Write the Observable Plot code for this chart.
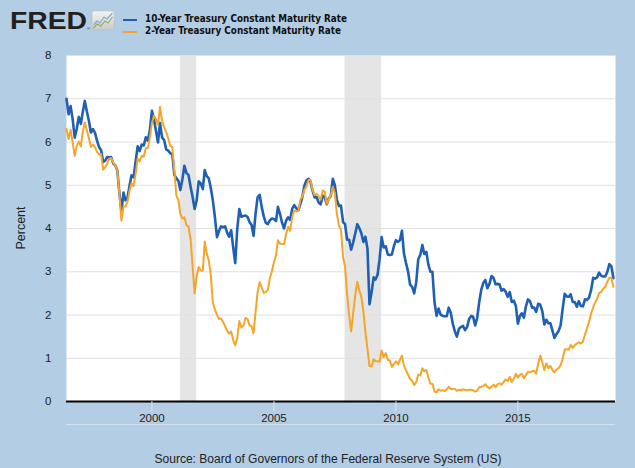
<!DOCTYPE html>
<html><head><meta charset="utf-8">
<script src="https://cdn.jsdelivr.net/npm/d3@7"></script>
<script src="https://cdn.jsdelivr.net/npm/@observablehq/plot@0.6"></script>
<style>
html,body{margin:0;padding:0;background:#b3cde4;}
#wrap{position:relative;width:635px;height:468px;overflow:hidden;}
#wrap svg{position:absolute;left:0;top:0;}
</style></head><body><div id="wrap"></div>
<script>
// Monthly values, July 1996 .. December 2018
const firstMonth = "1996-07-01";
const tenYear = [
  7.00, 6.64, 6.83, 6.53, 6.10, 6.30,
  6.58, 6.42, 6.69, 6.95, 6.71, 6.49, 6.22, 6.30, 6.21, 6.03, 5.88, 5.81,
  5.54, 5.57, 5.65, 5.64, 5.65, 5.50, 5.46, 5.34, 4.81, 4.40, 4.83, 4.65,
  4.72, 5.00, 5.23, 5.18, 5.54, 5.90, 5.79, 5.94, 5.92, 6.11, 6.03, 6.28,
  6.72, 6.52, 6.26, 5.99, 6.44, 6.10, 6.05, 5.83, 5.80, 5.74, 5.72, 5.24,
  5.16, 5.10, 4.89, 5.14, 5.45, 5.28, 5.24, 4.97, 4.73, 4.45, 4.65, 5.09,
  5.04, 4.91, 5.35, 5.21, 5.16, 4.93, 4.65, 4.26, 3.80, 3.94, 4.05, 4.03,
  4.05, 3.90, 3.81, 3.96, 3.57, 3.20, 3.98, 4.45, 4.27, 4.29, 4.30, 4.27,
  4.15, 4.08, 3.83, 4.35, 4.72, 4.78, 4.50, 4.28, 4.13, 4.10, 4.19, 4.23,
  4.22, 4.17, 4.50, 4.34, 4.14, 4.00, 4.18, 4.26, 4.20, 4.46, 4.54, 4.47,
  4.42, 4.57, 4.72, 4.99, 5.11, 5.15, 5.09, 4.88, 4.72, 4.73, 4.60, 4.56,
  4.76, 4.72, 4.56, 4.69, 4.75, 5.15, 5.00, 4.67, 4.52, 4.53, 4.15, 4.10,
  3.74, 3.74, 3.51, 3.68, 3.88, 4.10, 4.01, 3.89, 3.69, 3.81, 3.53, 2.25,
  2.52, 2.87, 2.82, 2.93, 3.29, 3.80, 3.56, 3.59, 3.40, 3.39, 3.40, 3.59,
  3.73, 3.69, 3.73, 3.95, 3.42, 3.20, 3.01, 2.70, 2.65, 2.50, 2.76, 3.29,
  3.39, 3.62, 3.41, 3.46, 3.17, 3.00, 3.00, 2.30, 1.98, 2.15, 2.01, 1.98,
  1.97, 1.97, 2.17, 2.05, 1.80, 1.62, 1.50, 1.68, 1.72, 1.75, 1.65, 1.72,
  1.91, 1.98, 1.96, 1.76, 1.93, 2.30, 2.58, 2.74, 2.81, 2.62, 2.72, 2.90,
  2.86, 2.71, 2.72, 2.71, 2.56, 2.60, 2.54, 2.42, 2.53, 2.30, 2.33, 2.21,
  1.80, 1.98, 2.04, 1.94, 2.20, 2.36, 2.32, 2.17, 2.17, 2.07, 2.26, 2.24,
  2.09, 1.78, 1.89, 1.81, 1.81, 1.64, 1.47, 1.56, 1.63, 1.76, 2.14, 2.49,
  2.43, 2.42, 2.48, 2.30, 2.30, 2.19, 2.32, 2.21, 2.20, 2.36, 2.35, 2.40,
  2.58, 2.86, 2.84, 2.87, 2.98, 2.91, 2.89, 2.89, 3.00, 3.18, 3.12, 2.85
];
const twoYear = [
  6.30, 6.07, 6.28, 5.99, 5.68, 5.91,
  6.01, 5.90, 6.22, 6.45, 6.28, 6.09, 5.89, 5.94, 5.88, 5.77, 5.71, 5.72,
  5.36, 5.42, 5.49, 5.61, 5.63, 5.52, 5.46, 5.34, 4.81, 4.18, 4.50, 4.51,
  4.62, 4.88, 5.05, 4.98, 5.25, 5.62, 5.55, 5.68, 5.66, 5.86, 5.86, 6.10,
  6.44, 6.61, 6.53, 6.40, 6.81, 6.48, 6.34, 6.23, 6.08, 5.91, 5.88, 5.35,
  4.76, 4.66, 4.34, 4.23, 4.26, 4.08, 4.04, 3.76, 3.12, 2.50, 2.90, 3.11,
  3.03, 3.02, 3.70, 3.42, 3.26, 2.91, 2.29, 2.13, 2.00, 1.91, 1.92, 1.84,
  1.74, 1.63, 1.57, 1.62, 1.42, 1.30, 1.47, 1.86, 1.71, 1.75, 1.93, 1.91,
  1.76, 1.74, 1.58, 2.07, 2.53, 2.76, 2.64, 2.51, 2.53, 2.58, 2.85, 3.01,
  3.22, 3.38, 3.73, 3.65, 3.64, 3.64, 3.87, 4.04, 3.95, 4.27, 4.42, 4.40,
  4.40, 4.67, 4.73, 4.89, 4.97, 5.12, 5.12, 4.90, 4.77, 4.80, 4.74, 4.67,
  4.88, 4.85, 4.57, 4.67, 4.77, 4.96, 4.82, 4.34, 4.06, 3.97, 3.34, 3.12,
  2.48, 1.97, 1.62, 2.05, 2.45, 2.77, 2.57, 2.42, 2.08, 1.61, 1.21, 0.82,
  0.81, 0.98, 0.93, 0.93, 0.92, 1.18, 1.02, 1.12, 0.96, 0.95, 0.80, 0.87,
  0.93, 0.86, 0.96, 1.06, 0.83, 0.72, 0.62, 0.52, 0.48, 0.38, 0.45, 0.62,
  0.61, 0.77, 0.70, 0.73, 0.56, 0.41, 0.41, 0.23, 0.21, 0.28, 0.25, 0.26,
  0.24, 0.28, 0.34, 0.29, 0.29, 0.29, 0.25, 0.27, 0.26, 0.28, 0.27, 0.26,
  0.27, 0.27, 0.26, 0.23, 0.25, 0.33, 0.34, 0.36, 0.40, 0.34, 0.30, 0.34,
  0.39, 0.33, 0.40, 0.42, 0.39, 0.45, 0.51, 0.47, 0.57, 0.45, 0.53, 0.64,
  0.55, 0.62, 0.64, 0.54, 0.61, 0.69, 0.67, 0.70, 0.71, 0.64, 0.88, 1.06,
  0.90, 0.73, 0.88, 0.77, 0.82, 0.73, 0.67, 0.74, 0.77, 0.84, 0.98, 1.20,
  1.21, 1.20, 1.31, 1.24, 1.30, 1.34, 1.37, 1.34, 1.38, 1.55, 1.70, 1.84,
  2.03, 2.18, 2.28, 2.38, 2.51, 2.53, 2.61, 2.65, 2.77, 2.86, 2.86, 2.65
];
const recessionStarts = ["2001-03-01", "2007-12-01"];
const recessionEnds   = ["2001-11-01", "2009-06-01"];
const yTicks = [0, 1, 2, 3, 4, 5, 6, 7, 8];
const xTickYears = ["2000-01-01", "2005-01-01", "2010-01-01", "2015-01-01"];
const xDomain = ["1996-07-01", "2019-01-01"];
const seriesNames = ["10-Year Treasury Constant Maturity Rate", "2-Year Treasury Constant Maturity Rate"];
const seriesColors = ["#1f60b5", "#f5a52a"];
const sourceText = "Source: Board of Governors of the Federal Reserve System (US)";

const t0 = new Date(firstMonth);
const toRows = arr => arr.map((v, i) => ({date: d3.utcMonth.offset(t0, i), value: v}));
const rows10 = toRows(tenYear);
const rows2 = toRows(twoYear);
const recessions = recessionStarts.map((s, i) => ({start: new Date(s), end: new Date(recessionEnds[i])}));

const chart = Plot.plot({
  width: 635, height: 468,
  marginLeft: 66, marginRight: 20, marginTop: 55, marginBottom: 67,
  style: {background: "transparent", fontFamily: "'Liberation Sans', Arial, sans-serif", fontSize: "11px", color: "#222"},
  x: {type: "utc", domain: xDomain.map(d => new Date(d))},
  y: {domain: [0, 8]},
  marks: [
    Plot.frame({fill: "white", stroke: "none"}),
    Plot.rect(recessions, {x1: "start", x2: "end", fill: "#e5e5e5"}),
    Plot.gridY(yTicks, {stroke: "#e0e0e0", strokeOpacity: 1}),
    Plot.line(rows10, {x: "date", y: "value", stroke: seriesColors[0], strokeWidth: 2.6}),
    Plot.line(rows2, {x: "date", y: "value", stroke: seriesColors[1], strokeWidth: 2}),
    Plot.ruleY([0], {stroke: "#000", strokeWidth: 2}),
    Plot.axisY(yTicks, {tickSize: 0, tickPadding: 15, label: null, fontSize: 11.5}),
    Plot.axisX(xTickYears.map(d => new Date(d)), {tickSize: 10, tickPadding: 2, stroke: "#dce7f2", fill: "#222", tickFormat: d3.utcFormat("%Y"), label: null, fontSize: 11.5})
  ]
});
document.getElementById("wrap").appendChild(chart);

// header (logo + legend), axis title and caption
const ns = "http://www.w3.org/2000/svg";
const ov = d3.select("#wrap").append("svg").attr("width", 635).attr("height", 468).attr("xmlns", ns);
const grad = ov.append("defs").append("linearGradient").attr("id", "ig").attr("x1", 0).attr("y1", 0).attr("x2", 0).attr("y2", 1);
grad.append("stop").attr("offset", 0).attr("stop-color", "#f4f4f4");
grad.append("stop").attr("offset", 1).attr("stop-color", "#c9c9c9");
ov.append("text").attr("x", 10).attr("y", 29).attr("textLength", 77).attr("lengthAdjust", "spacingAndGlyphs")
  .attr("font-family", "'Liberation Sans', Arial, sans-serif").attr("font-weight", 900).attr("font-size", 24)
  .attr("fill", "#231f20").text("FRED");
ov.append("text").attr("x", 87).attr("y", 30).attr("font-size", 4).attr("fill", "#231f20").attr("font-family", "'Liberation Sans', Arial, sans-serif").text("®");
ov.append("rect").attr("x", 92).attr("y", 11).attr("width", 22).attr("height", 19).attr("rx", 2).attr("fill", "url(#ig)").attr("stroke", "#b8b8b8").attr("stroke-width", 0.5);
ov.append("polyline").attr("points", "93.5,25 97,21 100,23 104,17 107,19 112.5,13").attr("fill", "none").attr("stroke", "#86aecb").attr("stroke-width", 1.2);
ov.append("polyline").attr("points", "93.5,28 97,24 101,26 105,21 108,23 112.5,17").attr("fill", "none").attr("stroke", "#8ab35e").attr("stroke-width", 1.2);

const legendY = [20, 32];
seriesNames.forEach((name, i) => {
  ov.append("line").attr("x1", 123).attr("x2", 137).attr("y1", legendY[i]).attr("y2", legendY[i])
    .attr("stroke", seriesColors[i]).attr("stroke-width", 2);
  ov.append("text").attr("x", 145).attr("y", legendY[i] + 2)
    .attr("font-family", "'DejaVu Sans Condensed', 'DejaVu Sans', sans-serif").attr("font-stretch", "condensed")
    .attr("font-weight", "bold").attr("font-size", 10.5).attr("fill", "#111")
    .attr("textLength", i === 0 ? 202 : 196).attr("lengthAdjust", "spacingAndGlyphs").text(name);
});
ov.append("text").attr("transform", "translate(25,228) rotate(-90)").attr("text-anchor", "middle")
  .attr("font-family", "'Liberation Sans', Arial, sans-serif").attr("font-size", 12.5).attr("fill", "#222").text("Percent");
ov.append("line").attr("x1", 66).attr("x2", 615).attr("y1", 424.5).attr("y2", 424.5).attr("stroke", "#d3e1ef").attr("stroke-width", 1);
ov.append("text").attr("x", 328).attr("y", 463).attr("text-anchor", "middle")
  .attr("font-family", "'Liberation Sans', Arial, sans-serif").attr("font-size", 12).attr("fill", "#222")
  .attr("textLength", 347).attr("lengthAdjust", "spacingAndGlyphs").text(sourceText);
</script></body></html>
